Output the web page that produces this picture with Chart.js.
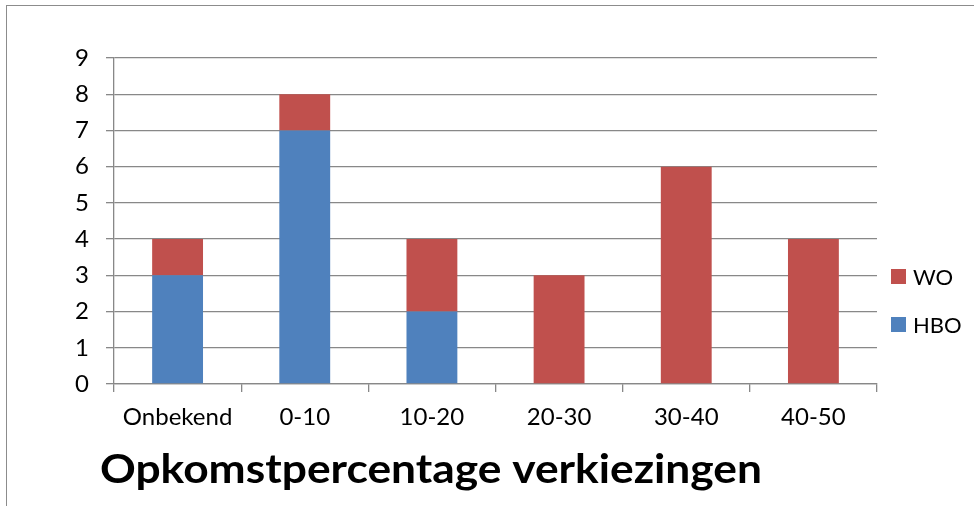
<!DOCTYPE html>
<html>
<head>
<meta charset="utf-8">
<script src="https://cdn.jsdelivr.net/npm/chart.js@4"></script>
<style>
    html, body { margin: 0; padding: 0; background: #fff; }
    #wrap { position: relative; width: 974px; height: 506px; overflow: hidden; }
    #rand { position: absolute; left: 6px; top: 5px; width: 1000px; height: 600px; border: 1.5px solid #8c8c8c; box-sizing: border-box; pointer-events: none; }
    #legenda { position: absolute; left: 891px; top: 252px; font-family: Lato, sans-serif; font-size: 22px; color: #000; }
    .item { display: flex; align-items: center; height: 48px; }
    .blok { width: 15px; height: 15px; margin-right: 7px; }
</style>
</head>
<body>
<div id="wrap">
    <canvas id="grafiek" width="974" height="506"></canvas>
    <div id="rand"></div>
    <div id="legenda"></div>
</div>
<script>
// gegevens uit de grafiek
const categorieen = ['Onbekend', '0-10', '10-20', '20-30', '30-40', '40-50'];
const hbo = [3, 7, 2, 0, 0, 0];
const wo = [1, 1, 2, 3, 6, 4];
const titel = 'Opkomstpercentage verkiezingen';

const grijs = '#888888';

// titel onder de x-as tekenen (breedte gelijk aan origineel)
const titelPlugin = {
    id: 'titelOnder',
    afterDraw(chart) {
        const ctx = chart.ctx;
        ctx.save();
        ctx.font = 'bold 40px Lato, sans-serif';
        ctx.fillStyle = '#000';
        ctx.textBaseline = 'alphabetic';
        ctx.textAlign = 'left';
        const breedte = ctx.measureText(titel).width;
        ctx.translate(100, 483);
        ctx.scale(662 / breedte, 1);
        ctx.fillText(titel, 0, 0);
        ctx.restore();
    }
};

const datasets = [
    { label: 'HBO', data: hbo, backgroundColor: '#4F81BD' },
    { label: 'WO', data: wo, backgroundColor: '#C0504D' }
];

const grafiek = new Chart(document.getElementById('grafiek'), {
    type: 'bar',
    data: { labels: categorieen, datasets: datasets },
    options: {
        responsive: false,
        animation: false,
        devicePixelRatio: 1,
        layout: { padding: { top: 58, right: 97, left: 0, bottom: 0 } },
        datasets: { bar: { barPercentage: 0.4, categoryPercentage: 1.0 } },
        plugins: {
            legend: { display: false },
            title: { display: false },
            tooltip: { enabled: false }
        },
        scales: {
            x: {
                stacked: true,
                afterFit(scale) { scale.height = 122; },
                grid: { drawOnChartArea: false, tickLength: 8, color: grijs, lineWidth: 1.3 },
                border: { color: grijs, width: 1.3 },
                ticks: { color: '#000', padding: 11, font: { family: 'Lato', size: 24 } }
            },
            y: {
                stacked: true,
                min: 0,
                max: 9,
                afterFit(scale) { scale.width = 114; },
                grid: { tickLength: 8, color: grijs, lineWidth: 1.3 },
                border: { color: grijs, width: 1.3 },
                ticks: { stepSize: 1, color: '#000', padding: 17, font: { family: 'Lato', size: 24 } }
            }
        }
    },
    plugins: [titelPlugin]
});

// legenda rechts, omgekeerde volgorde zoals in het origineel
const legenda = document.getElementById('legenda');
datasets.slice().reverse().forEach(ds => {
    const item = document.createElement('div');
    item.className = 'item';
    const blok = document.createElement('span');
    blok.className = 'blok';
    blok.style.background = ds.backgroundColor;
    const tekst = document.createElement('span');
    tekst.textContent = ds.label;
    item.appendChild(blok);
    item.appendChild(tekst);
    legenda.appendChild(item);
});
</script>
</body>
</html>
